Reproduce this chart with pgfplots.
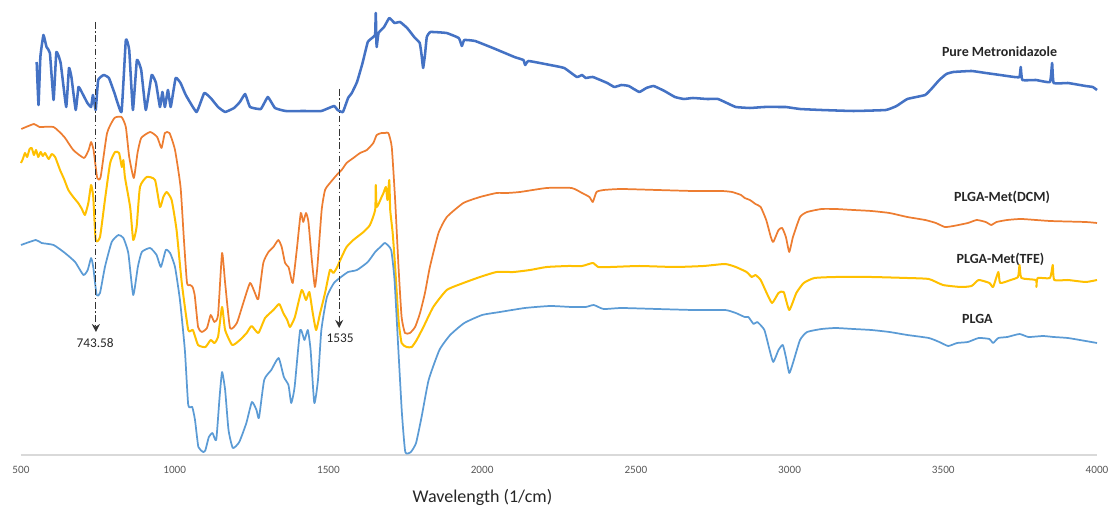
\documentclass[border=0pt]{standalone}
\usepackage{fontspec}
\setmainfont{Carlito}
\usepackage{pgfplots}
\pgfplotsset{compat=1.18}
\usetikzlibrary{arrows.meta}
\definecolor{cMet}{HTML}{4472C4}
\definecolor{cDCM}{HTML}{ED7D31}
\definecolor{cTFE}{HTML}{FFC000}
\definecolor{cPLGA}{HTML}{5B9BD5}
\definecolor{tickgray}{HTML}{595959}
\definecolor{axgray}{HTML}{D9D9D9}
\begin{document}
\begin{tikzpicture}
\begin{axis}[
  scale only axis, width=807pt, height=341.25pt,
  xmin=500, xmax=4000, ymin=0, ymax=455,
  axis x line*=bottom, axis y line=none,
  x axis line style={draw=axgray, line width=0.9pt},
  xtick={500,1000,...,4000}, major tick length=0pt,
  ytick=\empty,
  /pgf/number format/assume math mode=true,
  /pgf/number format/1000 sep={},
  xticklabel style={font=\fontsize{8.4}{10}\selectfont, text=tickgray, anchor=center, yshift=-11.25pt},
  clip=false,
  line join=round,
]
% Pure Metronidazole
\addplot[cMet, line width=1.9pt, mark=none, smooth, tension=0.2] coordinates {
(551,393)(557,350)(563,398)(573,420)(583,408)(594,402)(606,355)(615,403)(629,392)(647,348)(656,387)(664,378)(678,345)(687,368)(699,362)(716,352)(728,348)(734,360)(743,345)(751,375)(769,380)(786,377)(804,362)(827,343)(841,415)(852,405)(864,345)(877,395)(891,385)(906,345)(925,380)(939,372)(952,348)(960,363)(968,348)(978,365)(987,348)(1003,377)(1019,372)(1036,360)(1071,343)(1096,362)(1117,357)(1141,348)(1164,343)(1193,347)(1212,353)(1229,361)(1245,348)(1280,346)(1303,358)(1326,347)(1361,344)(1420,344)(1477,344)(1518,349)(1530,345)(1547,343)(1564,357)(1576,362)(1593,373)(1611,392)(1628,413)(1646,418)(1652,420)(1654,442)(1656,415)(1657,408)(1663,422)(1681,428)(1698,437)(1715,432)(1733,433)(1756,427)(1779,418)(1797,412)(1803,400)(1808,387)(1814,400)(1820,418)(1832,423)(1884,422)(1924,417)(1934,409)(1942,415)(1977,414)(2035,407)(2105,398)(2134,395)(2140,390)(2151,394)(2221,390)(2267,387)(2308,378)(2325,380)(2337,377)(2360,378)(2407,372)(2430,368)(2453,370)(2477,369)(2511,363)(2534,367)(2558,369)(2593,364)(2627,358)(2656,356)(2686,357)(2732,356)(2767,356)(2796,352)(2825,348)(2871,347)(2918,348)(2976,348)(2988,348)(3034,346)(3104,345)(3208,344)(3313,345)(3348,349)(3383,356)(3441,360)(3464,367)(3487,375)(3510,381)(3533,383)(3592,384)(3638,382)(3685,380)(3731,378)(3748,378)(3752,388)(3757,375)(3801,375)(3847,373)(3854,392)(3859,372)(3905,372)(3963,369)(3986,368)(4000,365)
};
% PLGA-Met(DCM)
\addplot[cDCM, line width=1.3pt, mark=none, smooth, tension=0.3] coordinates {
(501,326)(542,331)(560,328)(606,328)(641,318)(670,305)(705,297)(720,305)(728,313)(736,305)(748,277)(759,278)(780,322)(804,337)(827,338)(841,328)(852,298)(867,277)(879,302)(891,317)(920,323)(943,318)(957,307)(968,322)(983,322)(1001,305)(1019,268)(1030,215)(1040,172)(1050,170)(1058,168)(1065,160)(1076,128)(1088,123)(1105,127)(1117,140)(1129,133)(1141,140)(1154,202)(1164,172)(1180,127)(1202,132)(1223,152)(1245,172)(1261,162)(1272,156)(1288,192)(1305,203)(1321,208)(1337,215)(1348,208)(1359,192)(1370,188)(1375,182)(1384,172)(1397,205)(1410,242)(1418,233)(1427,242)(1435,233)(1446,195)(1456,168)(1464,188)(1478,245)(1489,265)(1505,272)(1527,280)(1543,285)(1559,292)(1581,297)(1603,302)(1625,305)(1646,312)(1657,320)(1673,322)(1684,322)(1695,322)(1706,308)(1717,255)(1728,188)(1738,138)(1749,122)(1765,122)(1782,128)(1798,142)(1814,162)(1830,188)(1858,222)(1885,238)(1939,252)(1993,258)(2047,262)(2080,262)(2123,263)(2210,267)(2291,267)(2325,262)(2349,258)(2360,253)(2372,263)(2395,265)(2453,266)(2569,265)(2686,264)(2779,264)(2813,263)(2842,260)(2854,257)(2871,255)(2889,251)(2906,248)(2924,235)(2939,218)(2947,213)(2964,225)(2976,227)(2988,218)(2999,203)(3011,218)(3034,238)(3057,243)(3104,246)(3150,246)(3208,245)(3266,244)(3325,242)(3383,238)(3441,235)(3476,232)(3505,228)(3533,229)(3580,232)(3609,235)(3638,233)(3656,230)(3673,233)(3708,235)(3755,236)(3847,234)(3963,233)(4000,232)
};
% PLGA-Met(TFE)
\addplot[cTFE, line width=1.5pt, mark=none, smooth, tension=0.3] coordinates {
(500,292)(506,296)(513,302)(520,298)(528,306)(535,307)(542,300)(549,305)(556,298)(564,303)(571,299)(578,302)(590,296)(600,301)(611,298)(627,285)(640,276)(654,265)(670,258)(686,252)(698,246)(708,240)(719,252)(728,270)(735,258)(743,215)(757,218)(773,255)(790,292)(806,303)(819,302)(828,288)(833,295)(838,278)(855,248)(865,215)(876,228)(887,268)(909,278)(936,275)(952,248)(963,258)(974,263)(990,255)(1006,225)(1023,172)(1044,125)(1059,125)(1076,110)(1100,108)(1117,115)(1129,112)(1141,118)(1154,148)(1164,125)(1187,110)(1212,115)(1234,122)(1250,129)(1272,122)(1294,137)(1321,145)(1340,151)(1353,142)(1366,135)(1375,128)(1391,138)(1413,165)(1427,155)(1438,163)(1449,142)(1460,125)(1473,142)(1489,162)(1505,185)(1516,182)(1527,187)(1543,198)(1559,208)(1581,215)(1614,223)(1635,230)(1652,245)(1654,270)(1657,248)(1673,258)(1679,262)(1687,268)(1692,255)(1698,275)(1701,245)(1709,222)(1717,188)(1728,135)(1738,112)(1754,108)(1771,108)(1787,115)(1809,128)(1841,148)(1885,165)(1939,172)(1993,178)(2047,183)(2102,183)(2156,185)(2210,188)(2279,189)(2325,189)(2360,192)(2378,188)(2418,188)(2511,189)(2627,188)(2720,189)(2790,191)(2825,188)(2860,183)(2877,178)(2889,180)(2906,175)(2924,163)(2943,152)(2964,162)(2981,163)(2999,145)(3022,162)(3046,172)(3081,177)(3150,178)(3266,178)(3383,177)(3453,176)(3499,170)(3557,168)(3592,169)(3615,175)(3650,172)(3662,168)(3679,183)(3685,172)(3719,175)(3743,178)(3748,190)(3754,177)(3801,175)(3803,168)(3807,177)(3847,177)(3856,190)(3861,175)(3905,175)(3963,173)(4000,175)
};
% PLGA
\addplot[cPLGA, line width=1.3pt, mark=none, smooth, tension=0.3] coordinates {
(500,210)(548,215)(567,212)(606,210)(643,202)(676,193)(703,180)(717,185)(728,197)(735,188)(746,160)(757,162)(773,188)(795,213)(817,220)(833,217)(849,202)(865,160)(880,188)(893,203)(920,207)(941,200)(955,188)(971,205)(985,202)(1001,188)(1017,155)(1033,105)(1044,50)(1057,48)(1066,35)(1077,8)(1093,3)(1100,5)(1111,18)(1123,22)(1135,15)(1146,58)(1154,83)(1164,65)(1175,25)(1189,7)(1210,13)(1233,32)(1251,53)(1266,45)(1274,37)(1291,75)(1314,85)(1338,97)(1355,78)(1370,70)(1379,52)(1390,68)(1408,125)(1422,115)(1433,125)(1442,105)(1454,52)(1466,75)(1477,125)(1495,158)(1518,172)(1541,178)(1564,183)(1593,185)(1628,193)(1652,203)(1669,208)(1684,212)(1704,205)(1715,175)(1727,108)(1739,42)(1750,3)(1768,3)(1785,12)(1803,38)(1826,75)(1861,105)(1896,120)(1942,132)(2000,140)(2058,143)(2139,147)(2221,149)(2291,148)(2337,148)(2363,150)(2395,146)(2453,147)(2569,146)(2686,145)(2790,145)(2825,142)(2854,138)(2866,138)(2883,131)(2895,133)(2918,125)(2935,105)(2947,93)(2964,105)(2978,110)(2988,98)(2999,82)(3011,92)(3034,115)(3057,123)(3104,126)(3150,127)(3208,126)(3266,125)(3325,123)(3383,120)(3453,117)(3487,113)(3516,109)(3545,112)(3580,113)(3615,117)(3650,116)(3662,112)(3679,117)(3708,118)(3748,121)(3777,118)(3824,119)(3859,118)(3905,117)(3963,114)(4000,112)
};
% annotation arrows
\addplot[draw=black!80, line width=0.9pt, dash pattern=on 5pt off 2pt on 1pt off 2pt, -{Stealth[length=6pt,width=6pt]}, mark=none] coordinates {(743.58,433) (743.58,123)};
\addplot[draw=black!80, line width=0.9pt, dash pattern=on 5pt off 2pt on 1pt off 2pt, -{Stealth[length=6pt,width=6pt]}, mark=none] coordinates {(1535,366) (1535,127)};
\node[font=\fontsize{10}{12}\selectfont, text=black!85] at (axis cs:741,112) {743.58};
\node[font=\fontsize{10}{12}\selectfont, text=black!85] at (axis cs:1538,117) {1535};
% series labels
\node[font=\bfseries\fontsize{10.5}{12}\selectfont, text=black!85] at (axis cs:3683,403) {Pure Metronidazole};
\node[font=\bfseries\fontsize{10.5}{12}\selectfont, text=black!85] at (axis cs:3691,258) {PLGA-Met(DCM)};
\node[font=\bfseries\fontsize{10.5}{12}\selectfont, text=black!85] at (axis cs:3686,196) {PLGA-Met(TFE)};
\node[font=\bfseries\fontsize{10.5}{12}\selectfont, text=black!85] at (axis cs:3611,136) {PLGA};
% axis title
\node[font=\fontsize{13.5}{16}\selectfont, text=black!85] at ([yshift=-31.5pt]axis cs:2001,0) {Wavelength (1/cm)};
\end{axis}
\pgfresetboundingbox
\path[use as bounding box] ([xshift=-15.75pt,yshift=-38.25pt]current axis.south west) rectangle ([xshift=9.75pt]current axis.north east);
\end{tikzpicture}
\end{document}
